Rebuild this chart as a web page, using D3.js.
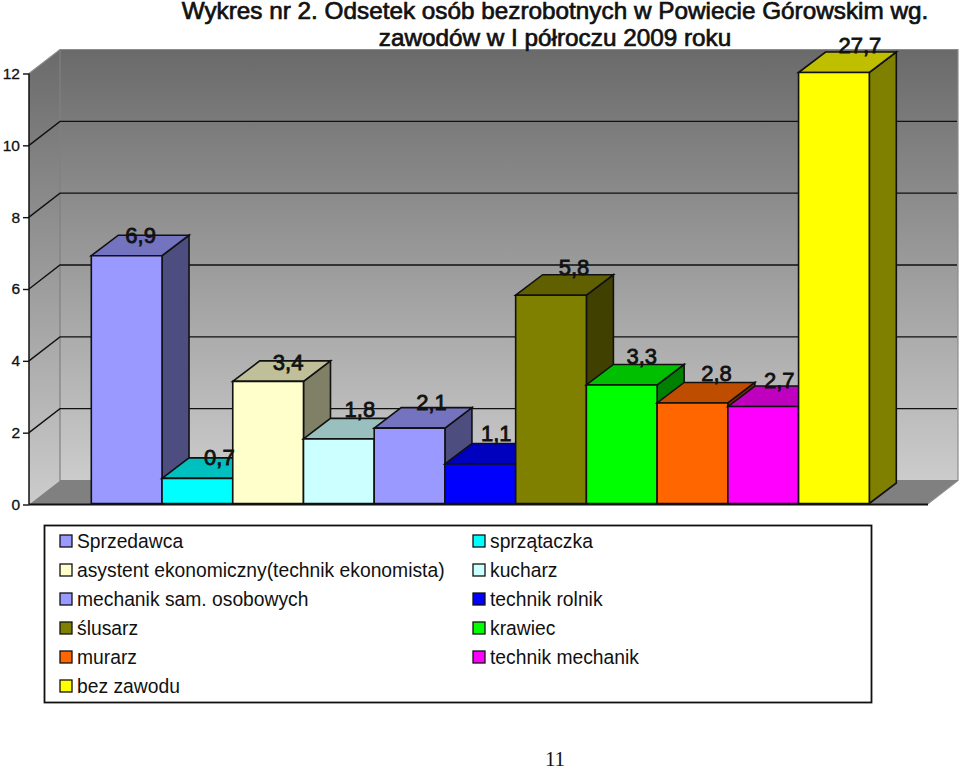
<!DOCTYPE html>
<html><head><meta charset="utf-8">
<script src="https://cdn.jsdelivr.net/npm/d3@7"></script>
<style>html,body{margin:0;padding:0;background:#fff}svg{display:block}text{font-family:"Liberation Sans",Arial,sans-serif}</style>
</head><body><svg id="c" width="960" height="768"></svg>
<script>
const categories=["Sprzedawca","sprzątaczka","asystent ekonomiczny(technik ekonomista)","kucharz","mechanik sam. osobowych","technik rolnik","ślusarz","krawiec","murarz","technik mechanik","bez zawodu"];
const values=[6.9,0.7,3.4,1.8,2.1,1.1,5.8,3.3,2.8,2.7,27.7];
const valueLabels=["6,9","0,7","3,4","1,8","2,1","1,1","5,8","3,3","2,8","2,7","27,7"];
const colors=["#9999ff","#00ffff","#ffffcc","#ccffff","#9999ff","#0000ff","#808000","#00ff00","#ff6600","#ff00ff","#ffff00"];
const yTicks=[0,2,4,6,8,10,12];
const labelDx=[-6,2,0,1,2,-4,3,0,4,-4,6];
const labelDy=[0,-1,1,-9,-6,-10,-8,-8,-9,-6,-7];
const titleLines=["Wykres nr 2. Odsetek osób bezrobotnych w Powiecie Górowskim wg.","zawodów w I półroczu 2009 roku"];
const pageNumber="11";

const svg=d3.select("#c");
const wallDx=31,wallDy=24,barDx=27,barDy=20.5,barLift=1;
const x0=29,x1=927;
const y=d3.scaleLinear().domain([0,12]).range([504.5,73.5]).clamp(true);
const x=d3.scaleBand().domain(categories).range([91.3,869.3]).paddingInner(0).paddingOuter(0);

const defs=svg.append("defs");
const g=defs.append("linearGradient").attr("id","wall").attr("x1",0).attr("x2",0).attr("y1",0).attr("y2",1);
g.append("stop").attr("offset","0%").attr("stop-color","#6a6a6a");
g.append("stop").attr("offset","100%").attr("stop-color","#cccccc");

const poly=(pts,fill,stroke,sw)=>svg.append("polygon").attr("points",pts.map(p=>p.join(",")).join(" ")).attr("fill",fill).attr("stroke",stroke||"none").attr("stroke-width",sw||0);
const yB=y(0),yT=y(12);
poly([[x0,yT],[x0+wallDx,yT-wallDy],[x0+wallDx,yB-wallDy],[x0,yB]],"url(#wall)");
poly([[x0+wallDx,yT-wallDy],[x1+wallDx,yT-wallDy],[x1+wallDx,yB-wallDy],[x0+wallDx,yB-wallDy]],"url(#wall)");
poly([[x0,yB],[x0+wallDx,yB-wallDy],[x1+wallDx,yB-wallDy],[x1,yB]],"#808080");
svg.append("polyline").attr("points",[[x0,yT],[x0+wallDx,yT-wallDy],[x1+wallDx,yT-wallDy],[x1+wallDx,yB-wallDy],[x1,yB]].join(" ")).attr("fill","none").attr("stroke","#8c8c8c").attr("stroke-width",1.2);
svg.append("polyline").attr("points",[[x0+wallDx,yT-wallDy],[x0+wallDx,yB-wallDy],[x1+wallDx,yB-wallDy]].join(" ")).attr("fill","none").attr("stroke","#808080").attr("stroke-width",1.2);
yTicks.filter(t=>t>0&&t<12).forEach(t=>{
  svg.append("polyline").attr("points",[[x0,y(t)],[x0+wallDx,y(t)-wallDy],[x1+wallDx-1,y(t)-wallDy]].join(" ")).attr("fill","none").attr("stroke","#111").attr("stroke-width",1.4);
});
const ax=svg.append("g").attr("transform",`translate(${x0},0)`).call(d3.axisLeft(y).tickValues(yTicks).tickSize(6).tickPadding(3).tickFormat(d3.format("d")));
ax.select(".domain").attr("stroke","#111").attr("stroke-width",1.5).attr("d",`M0,${yT}V${yB}`);
ax.selectAll(".tick line").attr("stroke","#111").attr("stroke-width",1.4);
ax.selectAll(".tick text").attr("font-size",15.5).attr("fill","#111").attr("font-family",'"Liberation Sans"').attr("stroke","#111").attr("stroke-width",0.3);
const shade=(c,k)=>{const r=d3.rgb(c);return d3.rgb(r.r*k,r.g*k,r.b*k).formatHex();};
categories.forEach((c,i)=>{
  const l=x(c),r=l+x.bandwidth(),t=y(values[i])-barLift,b=yB-barLift;
  const st="#111",sw=1.6;
  poly([[r,b],[r+barDx,b-barDy],[r+barDx,t-barDy],[r,t]],shade(colors[i],0.5),st,sw);
  poly([[l,t],[l+barDx,t-barDy],[r+barDx,t-barDy],[r,t]],shade(colors[i],0.75),st,sw);
  poly([[l,b],[l,t],[r,t],[r,b]],colors[i],st,sw);
});
svg.append("line").attr("x1",x0).attr("x2",x1+1).attr("y1",yB).attr("y2",yB).attr("stroke","#111").attr("stroke-width",2);
categories.forEach((c,i)=>{
  svg.append("text").attr("x",x(c)+x.bandwidth()/2+20+labelDx[i]).attr("y",y(values[i])-barDy+7+labelDy[i])
   .attr("text-anchor","middle").attr("font-size",22).attr("fill","#111").attr("stroke","#111").attr("stroke-width",0.8).text(valueLabels[i]);
});
titleLines.forEach((s,i)=>{
  svg.append("text").attr("x",555).attr("y",[18.5,46][i]).attr("text-anchor","middle").attr("font-size",24.3).attr("fill","#111").attr("stroke","#111").attr("stroke-width",0.7).text(s);
});
svg.append("rect").attr("x",44.5).attr("y",525.5).attr("width",827).attr("height",177).attr("fill","#fff").attr("stroke","#111").attr("stroke-width",1.8);
const colX=[60,473],rowH=29,rowY=541;
categories.forEach((c,i)=>{
  const col=i%2,row=Math.floor(i/2);
  const ly=rowY+row*rowH;
  svg.append("rect").attr("x",colX[col]).attr("y",ly-6).attr("width",12).attr("height",12).attr("fill",colors[i]).attr("stroke","#111").attr("stroke-width",1.3);
  svg.append("text").attr("x",colX[col]+17).attr("y",ly+6.5).attr("font-size",19.3).attr("fill","#111").text(c);
});
svg.append("text").attr("x",555).attr("y",766).attr("text-anchor","middle").attr("font-size",21).attr("fill","#111").style("font-family",'"Liberation Serif",serif').text(pageNumber);
</script></body></html>
